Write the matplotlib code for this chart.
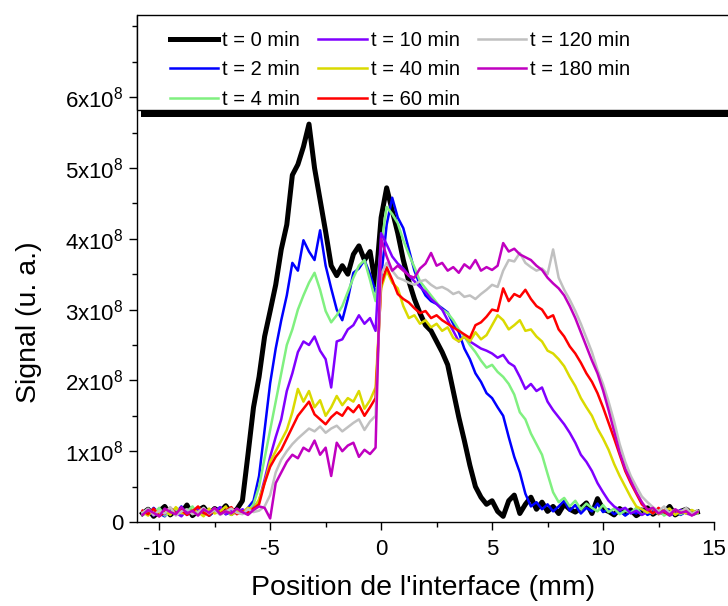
import numpy as np
import matplotlib
matplotlib.use('Agg')
import matplotlib.pyplot as plt
from matplotlib.patches import Rectangle
from matplotlib.ticker import MultipleLocator, FuncFormatter

plt.rcParams['font.family'] = ['Liberation Sans', 'DejaVu Sans']
plt.rcParams['mathtext.fontset'] = 'custom'
plt.rcParams['mathtext.rm'] = 'Liberation Sans'
plt.rcParams['mathtext.it'] = 'Liberation Sans:italic'
plt.rcParams['axes.unicode_minus'] = False

# position (mm), sampled every 0.25 mm
X = np.arange(-10.75, 14.3, 0.25)

# signal in units of 1e8
t0 = [0.12, 0.18, 0.08, 0.15, 0.22, 0.10, 0.17, 0.13, 0.24, 0.09,
      0.16, 0.21, 0.11, 0.19, 0.14, 0.23, 0.12, 0.18, 0.30, 0.95,
      1.62, 2.05, 2.62, 2.98, 3.35, 3.85, 4.20, 4.90, 5.05, 5.30,
      5.62, 5.00, 4.55, 4.10, 3.62, 3.48, 3.62, 3.50, 3.78, 3.90,
      3.70, 3.82, 3.35, 4.30, 4.72, 4.40, 4.08, 3.70, 3.40, 3.15,
      2.95, 2.78, 2.70, 2.55, 2.40, 2.22, 1.85, 1.48, 1.15, 0.80,
      0.50, 0.35, 0.25, 0.30, 0.15, 0.08, 0.30, 0.38, 0.12, 0.25,
      0.35, 0.18, 0.28, 0.15, 0.22, 0.12, 0.25, 0.18, 0.14, 0.20,
      0.27, 0.12, 0.33, 0.18, 0.15, 0.10, 0.19, 0.12, 0.17, 0.09,
      0.14, 0.20, 0.11, 0.16, 0.13, 0.22, 0.10, 0.15, 0.18, 0.12,
      0.14]
t2 = [0.15, 0.10, 0.20, 0.12, 0.08, 0.17, 0.13, 0.22, 0.10, 0.16,
      0.12, 0.19, 0.09, 0.15, 0.21, 0.11, 0.14, 0.18, 0.12, 0.20,
      0.30, 0.65, 1.30, 1.96, 2.45, 2.85, 3.20, 3.66, 3.55, 3.98,
      3.82, 3.70, 4.12, 3.62, 3.30, 3.00, 2.85, 3.15, 3.52, 3.58,
      3.70, 3.50, 3.25, 3.45, 4.20, 4.58, 4.30, 4.15, 3.85, 3.55,
      3.35, 3.20, 3.12, 3.08, 3.02, 2.96, 2.80, 2.68, 2.45, 2.30,
      2.10, 1.98, 1.82, 1.75, 1.62, 1.50, 1.20, 0.92, 0.70, 0.40,
      0.22, 0.28, 0.18, 0.25, 0.15, 0.22, 0.30, 0.16, 0.24, 0.12,
      0.20, 0.15, 0.26, 0.14, 0.18, 0.11, 0.16, 0.09, 0.15, 0.12,
      0.19, 0.10, 0.14, 0.17, 0.11, 0.13, 0.16, 0.10, 0.15, 0.12,
      0.14]
t4 = [0.10, 0.16, 0.12, 0.20, 0.09, 0.14, 0.18, 0.11, 0.15, 0.22,
      0.10, 0.17, 0.13, 0.19, 0.12, 0.16, 0.10, 0.18, 0.14, 0.15,
      0.25, 0.50, 0.90, 1.30, 1.70, 2.10, 2.50, 2.72, 3.00, 3.20,
      3.38, 3.52, 3.28, 2.98, 2.82, 2.92, 3.05, 3.25, 3.45, 3.62,
      3.70, 3.42, 3.12, 3.90, 4.45, 4.35, 4.22, 3.98, 3.78, 3.60,
      3.40, 3.30, 3.20, 3.10, 3.00, 2.95, 2.85, 2.72, 2.62, 2.50,
      2.40, 2.28, 2.18, 2.22, 2.12, 2.05, 1.95, 1.80, 1.55, 1.45,
      1.25, 1.10, 0.95, 0.68, 0.42, 0.28, 0.34, 0.22, 0.30, 0.18,
      0.26, 0.20, 0.15, 0.24, 0.14, 0.19, 0.11, 0.16, 0.13, 0.20,
      0.10, 0.15, 0.12, 0.18, 0.09, 0.14, 0.17, 0.11, 0.16, 0.13,
      0.12]
t10 = [0.12, 0.18, 0.09, 0.15, 0.11, 0.20, 0.13, 0.08, 0.17, 0.12,
       0.19, 0.10, 0.15, 0.13, 0.21, 0.11, 0.16, 0.12, 0.18, 0.14,
       0.20, 0.30, 0.60, 0.92, 1.20, 1.45, 1.85, 2.10, 2.40, 2.55,
       2.50, 2.62, 2.42, 2.30, 1.90, 2.55, 2.58, 2.72, 2.78, 2.92,
       2.80, 2.88, 2.70, 4.08, 3.92, 3.75, 3.65, 3.58, 3.48, 3.40,
       3.32, 3.25, 3.15, 3.08, 3.00, 2.85, 2.70, 2.55, 2.62, 2.55,
       2.50, 2.45, 2.42, 2.38, 2.32, 2.36, 2.25, 2.20, 2.05, 1.88,
       1.95, 1.85, 1.90, 1.70, 1.58, 1.48, 1.38, 1.26, 1.12, 0.95,
       0.85, 0.72, 0.55, 0.42, 0.30, 0.22, 0.17, 0.20, 0.12, 0.16,
       0.10, 0.14, 0.18, 0.11, 0.15, 0.09, 0.13, 0.17, 0.12, 0.10,
       0.14]
t40 = [0.14, 0.09, 0.18, 0.12, 0.16, 0.10, 0.21, 0.13, 0.11, 0.17,
       0.14, 0.08, 0.19, 0.12, 0.15, 0.22, 0.10, 0.16, 0.13, 0.20,
       0.18, 0.32, 0.55, 0.85, 1.00, 1.15, 1.30, 1.55, 1.88, 1.70,
       1.85, 1.62, 1.72, 1.50, 1.62, 1.78, 1.65, 1.75, 1.70, 1.85,
       1.60, 1.72, 1.90, 3.30, 3.55, 3.38, 3.30, 3.05, 2.88, 2.92,
       2.80, 2.85, 2.75, 2.80, 2.70, 2.75, 2.60, 2.55, 2.62, 2.55,
       2.68, 2.58, 2.64, 2.78, 2.92, 2.85, 2.72, 2.78, 2.85, 2.70,
       2.72, 2.62, 2.55, 2.42, 2.38, 2.30, 2.20, 2.05, 1.92, 1.75,
       1.62, 1.50, 1.32, 1.18, 1.02, 0.82, 0.65, 0.50, 0.35, 0.22,
       0.18, 0.13, 0.20, 0.11, 0.16, 0.19, 0.10, 0.15, 0.12, 0.17,
       0.13]
t60 = [0.16, 0.11, 0.19, 0.08, 0.14, 0.20, 0.12, 0.17, 0.10, 0.15,
       0.22, 0.13, 0.09, 0.18, 0.12, 0.16, 0.21, 0.11, 0.15, 0.13,
       0.19, 0.25, 0.55, 0.78, 0.92, 1.02, 1.18, 1.34, 1.50, 1.60,
       1.70, 1.52, 1.45, 1.38, 1.48, 1.55, 1.50, 1.62, 1.55, 1.65,
       1.50, 1.62, 1.75, 3.35, 3.60, 3.42, 3.22, 3.15, 3.10, 3.02,
       2.95, 2.98, 2.88, 2.92, 2.85, 2.80, 2.75, 2.70, 2.65, 2.60,
       2.78, 2.82, 2.90, 3.00, 2.98, 3.30, 3.12, 3.22, 3.18, 3.28,
       3.15, 3.05, 3.00, 2.88, 2.92, 2.72, 2.62, 2.48, 2.38, 2.25,
       2.10, 1.98, 1.82, 1.62, 1.40, 1.18, 0.95, 0.72, 0.55, 0.40,
       0.25, 0.18, 0.12, 0.20, 0.14, 0.10, 0.17, 0.13, 0.19, 0.11,
       0.15]
t120 = [0.13, 0.19, 0.10, 0.16, 0.12, 0.21, 0.09, 0.15, 0.18, 0.11,
        0.14, 0.20, 0.12, 0.17, 0.10, 0.15, 0.19, 0.13, 0.11, 0.18,
        0.14, 0.16, 0.22, 0.38, 0.70, 0.88, 1.00, 1.10, 1.18, 1.25,
        1.32, 1.28, 1.35, 1.26, 1.32, 1.36, 1.28, 1.34, 1.40, 1.45,
        1.30, 1.42, 1.50, 3.50, 3.66, 3.55, 3.45, 3.42, 3.38, 3.35,
        3.40, 3.42, 3.35, 3.30, 3.32, 3.28, 3.22, 3.25, 3.18, 3.20,
        3.15, 3.22, 3.28, 3.35, 3.32, 3.55, 3.70, 3.68, 3.80, 3.66,
        3.60, 3.55, 3.58, 3.50, 3.85, 3.45, 3.28, 3.14, 2.98, 2.80,
        2.60, 2.40, 2.15, 1.95, 1.70, 1.42, 1.10, 0.85, 0.65, 0.50,
        0.36, 0.28, 0.21, 0.15, 0.22, 0.12, 0.18, 0.14, 0.20, 0.11,
        0.16]
t180 = [0.10, 0.17, 0.13, 0.08, 0.19, 0.14, 0.11, 0.21, 0.12, 0.16,
        0.09, 0.18, 0.13, 0.20, 0.11, 0.15, 0.12, 0.19, 0.14, 0.10,
        0.17, 0.22, 0.20, 0.05, 0.55, 0.70, 0.85, 0.95, 0.90, 1.05,
        1.00, 1.15, 0.95, 1.05, 0.65, 1.12, 1.00, 1.08, 1.12, 0.92,
        1.02, 0.96, 1.05, 4.00, 3.75, 3.55, 3.62, 3.55, 3.48, 3.45,
        3.58, 3.65, 3.80, 3.62, 3.66, 3.55, 3.60, 3.52, 3.64, 3.58,
        3.70, 3.55, 3.60, 3.56, 3.62, 3.94, 3.82, 3.86, 3.78, 3.74,
        3.70, 3.62, 3.56, 3.45, 3.37, 3.30, 3.20, 3.05, 2.88, 2.68,
        2.48, 2.28, 2.10, 1.86, 1.58, 1.28, 0.98, 0.75, 0.58, 0.42,
        0.28, 0.17, 0.20, 0.12, 0.16, 0.10, 0.18, 0.13, 0.15, 0.09,
        0.14]

labels = ['t = 0 min', 't = 2 min', 't = 4 min', 't = 10 min', 't = 40 min',
          't = 60 min', 't = 120 min', 't = 180 min']
series = [t0, t2, t4, t10, t40, t60, t120, t180]
colors = ['#000000', '#0000FF', '#80F080', '#8000FF', '#DADA00',
          '#FF0000', '#C0C0C0', '#C000C0']
widths = [3.6, 1.8, 1.8, 1.8, 1.8, 1.8, 1.8, 1.8]

fig = plt.figure(figsize=(7.28, 6.06), dpi=100)
ax = fig.add_axes([137/728, 84/606, 577/728, 507.3/606])

for y, lab, c, lw in zip(series, labels, colors, widths):
    ax.plot(X, y, color=c, lw=lw, label=lab)

ax.set_xlim(-11, 15)
ax.set_ylim(0, 507.3/70.8)
ax.xaxis.set_major_locator(MultipleLocator(5))
ax.xaxis.set_minor_locator(MultipleLocator(2.5))
ax.yaxis.set_major_locator(MultipleLocator(1))
ax.yaxis.set_minor_locator(MultipleLocator(0.5))
ax.yaxis.set_major_formatter(FuncFormatter(
    lambda v, p: '0' if v == 0 else f'{int(round(v))}x10$^{{8}}$'))
ax.set_yticks([0, 1, 2, 3, 4, 5, 6])
ax.tick_params(which='major', direction='out', length=6, width=1, labelsize=16, pad=4)
ax.tick_params(which='minor', direction='out', length=3.5, width=1)
ax.tick_params(axis='x', pad=6)
for s in ['top', 'right']:
    ax.spines[s].set_visible(False)
for s in ['left', 'bottom']:
    ax.spines[s].set_linewidth(1)

ax.set_xlabel("Position de l'interface (mm)", fontsize=20.5)
ax.set_ylabel('Signal (u. a.)', fontsize=20.5)
ax.xaxis.set_label_coords(0.4965, -0.104)
ax.yaxis.set_label_coords(-0.165, 0.394)

# legend box with its drop shadow (Origin style)
ax.add_patch(Rectangle((0.007, 0.7977), 1.2, 0.19, transform=ax.transAxes,
                       fc='black', ec='none', clip_on=False, zorder=7))
ax.add_patch(Rectangle((0, 0.812), 1.2, 0.188, transform=ax.transAxes,
                       fc='white', ec='black', lw=1, clip_on=False, zorder=8))
leg = ax.legend(ncol=3, loc='upper left', bbox_to_anchor=(0.057, 0.968),
                frameon=False, fontsize=14.5, handlelength=2.4, handletextpad=0.2,
                columnspacing=0.9, labelspacing=0.52, borderpad=0, borderaxespad=0)
leg.set_zorder(10)

fig.savefig('out.png', dpi=100)
